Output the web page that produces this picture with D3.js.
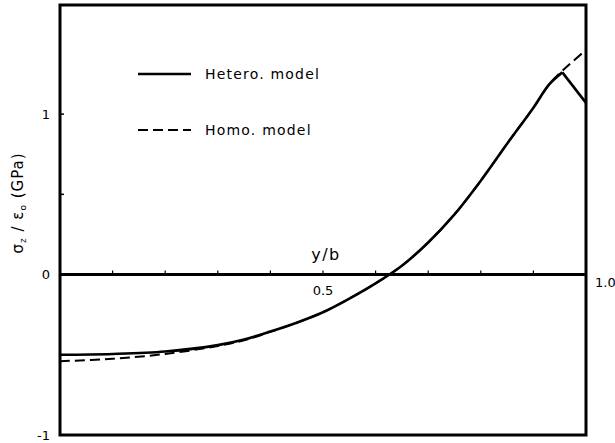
<!DOCTYPE html>
<html>
<head>
<meta charset="utf-8">
<script src="https://cdn.jsdelivr.net/npm/d3@7"></script>
<style>
	body { margin: 0; background: #fff; }
	text { font-family: "DejaVu Sans", "Liberation Sans", sans-serif; fill: #000; }
</style>
</head>
<body>
<svg id="chart" width="615" height="443"></svg>
<script>
/* Data */
var yb = [0, 0.1, 0.2, 0.3, 0.35, 0.4, 0.45, 0.5, 0.55, 0.6, 0.65, 0.7, 0.75, 0.8, 0.85, 0.9, 0.93, 0.955, 1.0];
var hetero = [-0.50, -0.495, -0.48, -0.44, -0.405, -0.355, -0.30, -0.235, -0.15, -0.055, 0.055, 0.20, 0.375, 0.585, 0.815, 1.04, 1.185, 1.26, 1.07];
var homo = [-0.54, -0.525, -0.495, -0.445, -0.41, -0.357, -0.30, -0.235, -0.15, -0.055, 0.055, 0.20, 0.375, 0.585, 0.815, 1.04, 1.185, 1.27, 1.40];
var peakIndex = 17;
var legendLabels = ["Hetero. model", "Homo. model"];
var yTicks = [-1, 0, 1];
var yMinorTicks = [0.5, 1];
var xMinorTicks = [0.1, 0.2, 0.3, 0.4, 0.5, 0.6, 0.7, 0.8, 0.9];

var svg = d3.select("#chart");

var margin = {top: 5, right: 29, bottom: 8, left: 60},
	width = 615 - margin.left - margin.right,
	height = 443 - margin.top - margin.bottom;

var x = d3.scaleLinear().domain([0, 1]).range([0, width]);
var y = d3.scaleLinear().domain([-1, 1.68]).range([height, 0]);

var g = svg.append("g")
	.attr("transform", "translate(" + margin.left + "," + margin.top + ")");

/* Frame */
g.append("rect")
	.attr("x", 0).attr("y", 0)
	.attr("width", width).attr("height", height)
	.attr("fill", "none")
	.attr("stroke", "#000")
	.attr("stroke-width", 3);

/* Zero line with small ticks */
g.append("line")
	.attr("x1", 0).attr("x2", width)
	.attr("y1", y(0)).attr("y2", y(0))
	.attr("stroke", "#000")
	.attr("stroke-width", 3);

g.selectAll(".xtick").data(xMinorTicks)
	.enter().append("line")
	.attr("class", "xtick")
	.attr("x1", function(d){ return x(d); })
	.attr("x2", function(d){ return x(d); })
	.attr("y1", y(0)).attr("y2", y(0) - 4)
	.attr("stroke", "#000").attr("stroke-width", 1.2);

g.selectAll(".ytick").data(yMinorTicks)
	.enter().append("line")
	.attr("class", "ytick")
	.attr("x1", 0).attr("x2", 4)
	.attr("y1", function(d){ return y(d); })
	.attr("y2", function(d){ return y(d); })
	.attr("stroke", "#000").attr("stroke-width", 1.5);

/* Y tick labels */
g.selectAll(".ylabel").data(yTicks)
	.enter().append("text")
	.attr("class", "ylabel")
	.attr("x", -10)
	.attr("y", function(d){ return y(d); })
	.attr("dy", "0.35em")
	.attr("text-anchor", "end")
	.style("font-size", "13px")
	.text(function(d){ return d === -1 ? "-1" : d; });

g.append("text")
	.attr("x", x(0.5)).attr("y", y(0) + 20)
	.attr("text-anchor", "middle")
	.style("font-size", "13px")
	.text("0.5");

g.append("text")
	.attr("x", width + 9).attr("y", y(0) + 12)
	.style("font-size", "13px")
	.text("1.0");

g.append("text")
	.attr("x", x(0.5) + 3).attr("y", y(0) - 15)
	.attr("text-anchor", "middle")
	.style("font-size", "16px")
	.style("letter-spacing", "1.5px")
	.text("y/b");

/* Axis title */
svg.append("text")
	.attr("transform", "translate(23,203) rotate(-90)")
	.attr("text-anchor", "middle")
	.style("font-size", "15px")
	.style("letter-spacing", "1px")
	.html("σ<tspan font-size='9px' dy='3'>z</tspan><tspan dy='-3'> / ε</tspan><tspan font-size='9px' dy='3'>o</tspan><tspan dy='-3'> (GPa)</tspan>");

/* Curves */
var line = d3.line()
	.x(function(d){ return x(yb[d]); })
	.curve(d3.curveCatmullRom.alpha(0.5));

g.append("path")
	.datum(d3.range(yb.length))
	.attr("fill", "none")
	.attr("stroke", "#000")
	.attr("stroke-width", 2)
	.attr("stroke-dasharray", "10,5")
	.attr("d", line.y(function(d){ return y(homo[d]); }));

g.append("path")
	.datum(d3.range(peakIndex + 1))
	.attr("fill", "none")
	.attr("stroke", "#000")
	.attr("stroke-width", 2.6)
	.attr("d", line.y(function(d){ return y(hetero[d]); }));

g.append("path")
	.datum(d3.range(peakIndex, yb.length))
	.attr("fill", "none")
	.attr("stroke", "#000")
	.attr("stroke-width", 2.6)
	.attr("d", d3.line()
		.x(function(d){ return x(yb[d]); })
		.y(function(d){ return y(hetero[d]); }));

/* Legend */
var legend = svg.append("g");
legend.selectAll("line").data(legendLabels)
	.enter().append("line")
	.attr("x1", 138).attr("x2", 191)
	.attr("y1", function(d, i){ return 74 + i * 56; })
	.attr("y2", function(d, i){ return 74 + i * 56; })
	.attr("stroke", "#000")
	.attr("stroke-width", function(d, i){ return i ? 2 : 2.6; })
	.attr("stroke-dasharray", function(d, i){ return i ? "10,5" : null; });

legend.selectAll("text").data(legendLabels)
	.enter().append("text")
	.attr("x", 205)
	.attr("y", function(d, i){ return 74 + i * 56; })
	.attr("dy", "0.35em")
	.style("font-size", "14px")
	.style("letter-spacing", "1.2px")
	.text(function(d){ return d; });
</script>
</body>
</html>
